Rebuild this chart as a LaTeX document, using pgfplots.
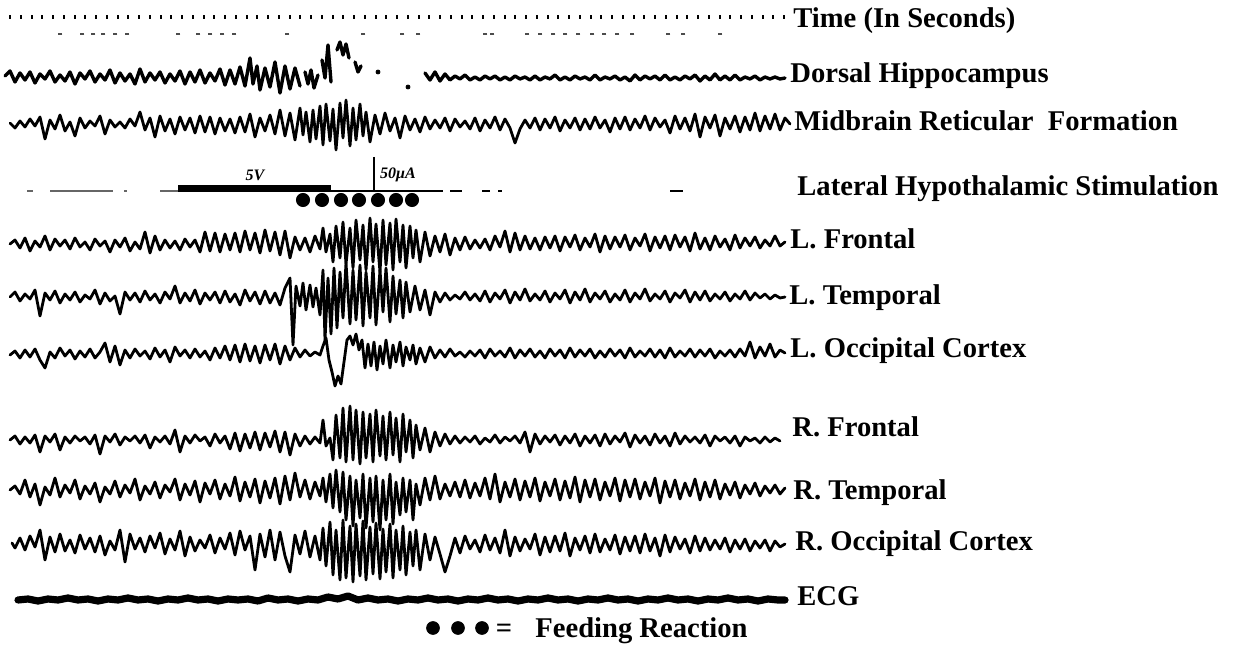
\documentclass[border=0pt]{standalone}
\usepackage{pgfplots}
\pgfplotsset{compat=1.18}
\usepackage{fontspec}
\setmainfont{Liberation Serif}
\newcommand{\lbl}{\fontsize{14.3}{16}\selectfont\bfseries}
\begin{document}
\begin{tikzpicture}[lab/.style={anchor=base west, inner sep=0pt, font=\lbl}]
\begin{axis}[width=618.5pt, height=323pt, scale only axis,
  xmin=0, xmax=1237, ymin=0, ymax=646, y dir=reverse,
  hide axis, clip=false, unbounded coords=jump,
  trace/.style={black, line width=1.4pt, line join=round, line cap=round, mark=none}]
\path (axis cs:0,0) rectangle (axis cs:1237,646);
% Time marks
\addplot[only marks, mark=|, mark size=0.8pt, black, mark options={line width=0.9pt}] coordinates {
(10,17)(21,17)(32,17)(42,17)(53,17)(64,17)(75,17)(85,17)(96,17)(107,17)(118,17)(128,17)(139,17)(150,17)(161,17)(171,17)(182,17)(193,17)(204,17)(214,17)(225,17)(236,17)(247,17)(257,17)(268,17)(279,17)(290,17)(300,17)(311,17)(322,17)(333,17)(343,17)(354,17)(365,17)(376,17)(386,17)(397,17)(408,17)(419,17)(429,17)(440,17)(451,17)(462,17)(472,17)(483,17)(494,17)(505,17)(515,17)(526,17)(537,17)(548,17)(558,17)(569,17)(580,17)(591,17)(601,17)(612,17)(623,17)(634,17)(644,17)(655,17)(666,17)(677,17)(687,17)(698,17)(709,17)(720,17)(730,17)(741,17)(752,17)(763,17)(773,17)(784,17)};
\addplot[only marks, mark=-, mark size=1.2pt, black!70, mark options={line width=0.6pt}] coordinates {
(60,34)(82,34)(93,34)(103,34)(115,34)(127,34)(178,34)(198,34)(210,34)(222,34)(234,34)(287,34)(363,34)(402,34)(418,34)(485,34)(492,34)(527,34)(540,34)(553,34)(565,34)(578,34)(592,34)(604,34)(617,34)(632,34)(668,34)(683,34)(720,34)};
% Dorsal Hippocampus
\addplot[trace, line width=1.7pt] coordinates {
(5,76)(10,71)(15,82)(20,73)(25,80)(30,72)(35,83)(40,74)(45,79)(50,71)(55,82)(60,75)(65,81)(70,72)(75,84)(80,73)(85,79)(90,71)(95,82)(100,74)(105,80)(110,70)(115,83)(120,73)(125,81)(130,74)(135,84)(140,69)(145,82)(150,73)(155,80)(160,72)(165,83)(170,74)(175,81)(180,71)(185,84)(190,72)(195,82)(200,70)(205,83)(210,73)(215,81)(220,69)(225,85)(230,70)(235,84)(240,67)(245,86)(250,58)(253,84)(257,66)(260,90)(265,68)(270,87)(275,62)(280,93)(285,66)(290,89)(295,68)(300,86)
(302,nan)(305,72)(308,84)(311,70)(314,88)(318,75)(320,nan)(322,60)(325,78)(328,45)(331,82)(334,nan)
(337,50)(340,42)(343,55)(346,44)(349,58)(351,nan)(355,62)(358,72)(361,66)(363,nan)
(425,73)(430,80)(435,72)(440,81)(445,74)(450,80)(455,76)(460,79)(465,75)(470,80)(475,77)(480,80)(485,76)(490,79)(495,76)(500,80)(505,77)(510,80)(515,76)(520,79)(525,77)(530,80)(535,76)(540,80)(545,77)(550,79)(555,75)(560,80)(565,77)(570,80)(575,76)(580,79)(585,77)(590,80)(595,75)(600,80)(605,77)(610,79)(615,76)(620,80)(625,77)(630,81)(635,75)(640,80)(645,76)(650,79)(655,76)(660,80)(665,75)(670,80)(675,77)(680,80)(685,76)(690,79)(695,75)(700,81)(705,76)(710,80)(715,74)(720,80)(725,76)(730,80)(735,75)(740,80)(745,77)(750,79)(755,76)(760,80)(765,77)(770,79)(775,77)(780,79)(785,78)};
\addplot[only marks, mark=*, mark size=1pt, black] coordinates {(378,72)(408,87)};
% Midbrain Reticular Formation
\addplot[trace] coordinates {
(10,123)(15,128)(20,121)(25,127)(30,119)(35,126)(40,117)(45,139)(50,120)(55,129)(60,115)(65,131)(70,122)(75,136)(80,118)(85,128)(90,121)(95,126)(100,116)(105,134)(110,120)(115,127)(120,122)(125,128)(130,119)(135,126)(140,112)(145,130)(150,118)(155,137)(160,116)(165,131)(170,119)(175,134)(180,117)(185,130)(190,118)(195,133)(200,116)(205,132)(210,117)(215,134)(220,118)(225,131)(230,119)(235,133)(240,117)(245,132)(250,114)(255,137)(260,118)(265,131)(270,115)(275,134)(280,110)(285,136)(290,113)(295,140)(300,108)(303,135)(306,112)(310,142)(313,110)(316,139)(320,106)(323,145)(326,104)(330,141)(333,109)(336,150)(340,103)(343,138)(346,100)(350,146)(353,108)(356,140)(360,104)(363,136)(366,112)(370,142)(375,115)(380,134)(385,113)(390,131)(395,118)(400,138)(405,116)(410,130)(415,119)(420,132)(425,117)(430,129)(435,120)(440,128)(445,118)(450,131)(455,119)(460,127)(465,121)(470,129)(475,118)(480,131)(485,120)(490,128)(495,117)(500,130)(505,119)(510,128)(515,143)(520,129)(525,120)(530,128)(535,118)(540,130)(545,119)(550,128)(555,117)(560,131)(565,120)(570,128)(575,118)(580,130)(585,119)(590,129)(595,117)(600,128)(605,120)(610,132)(615,118)(620,129)(625,117)(630,130)(635,119)(640,128)(645,116)(650,130)(655,118)(660,127)(665,120)(670,133)(675,116)(680,129)(685,118)(690,131)(695,114)(700,137)(705,117)(710,128)(715,115)(720,136)(725,118)(730,129)(735,116)(740,132)(745,117)(750,130)(755,113)(760,131)(765,116)(770,129)(775,114)(780,130)(785,118)(790,124)};
% Lateral hypothalamic stimulation
\addplot[black!60, line width=0.8pt, mark=none] coordinates {(27,191)(33,191)(35,nan)(50,191)(113,191)(115,nan)(124,191)(127,191)(130,nan)(160,191)(178,191)};
\addplot[black, line width=3.5pt, mark=none] coordinates {(178,188.5)(331,188.5)};
\addplot[black, line width=0.8pt, mark=none] coordinates {(331,191)(443,191)(445,nan)(450,191)(462,191)(464,nan)(482,191)(490,191)(492,nan)(498,191)(502,191)(504,nan)(670,191)(683,191)};
\addplot[black, line width=0.8pt, mark=none] coordinates {(374,157)(374,191)};
\addplot[only marks, mark=*, mark size=3.3pt, black] coordinates {(303,200)(322,200)(341,200)(359,200)(378,200)(396,200)(412,200)};
\node[font=\fontsize{8}{9}\selectfont\bfseries\itshape] at (axis cs:255,175) {5V};
\node[font=\fontsize{8}{9}\selectfont\bfseries\itshape] at (axis cs:398,175) {50μA};
% L. Frontal
\addplot[trace] coordinates {
(10,244)(15,240)(20,248)(25,238)(30,251)(35,241)(40,247)(45,236)(50,250)(55,239)(60,246)(65,240)(70,249)(75,238)(80,247)(85,242)(90,250)(95,239)(100,246)(105,241)(110,252)(115,240)(120,247)(125,238)(130,251)(135,242)(140,249)(145,232)(150,253)(155,236)(160,250)(165,240)(170,248)(175,241)(180,250)(185,239)(190,247)(195,240)(200,252)(205,232)(210,251)(215,233)(220,252)(225,234)(230,250)(235,233)(240,252)(245,231)(250,250)(255,233)(260,253)(265,230)(270,251)(275,232)(280,255)(285,231)(290,258)(295,237)(300,250)(305,238)(310,252)(315,236)(320,249)(323,228)(326,252)(330,234)(333,262)(336,226)(340,258)(343,222)(346,264)(350,228)(353,268)(356,220)(360,260)(363,225)(366,270)(370,218)(373,262)(376,224)(380,272)(383,220)(386,265)(390,223)(393,270)(396,219)(400,262)(403,225)(406,268)(410,226)(413,258)(416,230)(420,262)(425,232)(430,256)(435,236)(440,252)(445,234)(450,255)(455,238)(460,250)(465,237)(470,249)(475,240)(480,248)(485,239)(490,250)(495,236)(500,247)(505,231)(510,252)(515,233)(520,250)(525,236)(530,249)(535,238)(540,250)(545,237)(550,248)(555,236)(560,251)(565,237)(570,247)(575,235)(580,250)(585,238)(590,247)(595,234)(600,252)(605,236)(610,249)(615,237)(620,247)(625,235)(630,250)(635,238)(640,246)(645,234)(650,251)(655,237)(660,248)(665,236)(670,250)(675,235)(680,247)(685,237)(690,251)(695,233)(700,249)(705,238)(710,250)(715,236)(720,247)(725,239)(730,250)(735,235)(740,248)(745,238)(750,246)(755,237)(760,248)(765,240)(770,246)(775,236)(780,246)(785,242)};
% L. Temporal
\addplot[trace] coordinates {
(10,297)(15,292)(20,301)(25,294)(30,299)(35,290)(40,316)(45,293)(50,300)(55,291)(60,303)(65,294)(70,300)(75,292)(80,302)(85,295)(90,299)(95,290)(100,304)(105,293)(110,301)(115,296)(120,314)(125,292)(130,300)(135,293)(140,302)(145,291)(150,300)(155,294)(160,303)(165,292)(170,299)(175,286)(180,303)(185,293)(190,301)(195,290)(200,304)(205,293)(210,300)(215,292)(220,303)(225,291)(230,302)(235,294)(240,305)(245,290)(250,301)(255,292)(260,304)(265,291)(270,303)(275,293)(280,305)(285,288)(290,278)(293,345)(296,286)(300,306)(303,283)(306,310)(310,285)(313,307)(316,288)(320,315)(323,270)(325,340)(328,278)(331,334)(334,268)(337,328)(340,272)(343,318)(346,263)(350,324)(353,270)(356,320)(360,265)(363,326)(366,272)(370,318)(373,266)(376,325)(380,270)(383,312)(386,268)(390,322)(393,276)(396,314)(400,280)(403,318)(406,282)(410,312)(415,286)(420,310)(425,290)(430,315)(435,292)(440,302)(445,293)(450,300)(455,295)(460,299)(465,292)(470,300)(475,294)(480,301)(485,291)(490,302)(495,293)(500,299)(505,290)(510,303)(515,292)(520,300)(525,289)(530,301)(535,294)(540,300)(545,291)(550,302)(555,293)(560,299)(565,290)(570,303)(575,292)(580,300)(585,289)(590,302)(595,293)(600,299)(605,291)(610,302)(615,294)(620,300)(625,290)(630,302)(635,293)(640,299)(645,289)(650,301)(655,294)(660,299)(665,291)(670,302)(675,293)(680,298)(685,290)(690,302)(695,292)(700,300)(705,291)(710,301)(715,294)(720,299)(725,292)(730,301)(735,294)(740,299)(745,291)(750,300)(755,293)(760,298)(765,294)(770,299)(775,295)(780,298)(785,297)};
% L. Occipital
\addplot[trace] coordinates {
(10,355)(15,351)(20,358)(25,350)(30,357)(35,349)(40,360)(45,368)(50,352)(55,358)(60,348)(65,356)(70,350)(75,359)(80,351)(85,357)(90,349)(95,358)(100,352)(105,343)(110,362)(115,346)(120,365)(125,350)(130,358)(135,349)(140,356)(145,351)(150,359)(155,348)(160,357)(165,350)(170,362)(175,347)(180,356)(185,350)(190,358)(195,349)(200,357)(205,351)(210,360)(215,348)(220,358)(225,346)(230,360)(235,345)(240,362)(245,344)(250,361)(255,346)(260,363)(265,345)(270,360)(275,344)(280,364)(285,346)(290,360)(295,348)(300,357)(305,350)(310,356)(315,352)(320,355)(323,346)(326,338)(329,360)(332,372)(335,386)(338,376)(341,384)(344,362)(347,340)(350,336)(353,345)(356,334)(359,350)(362,340)(365,368)(368,344)(371,366)(374,342)(377,370)(380,346)(383,364)(386,340)(390,368)(393,345)(396,362)(400,342)(403,366)(406,347)(410,360)(413,345)(416,364)(420,348)(425,362)(430,347)(435,358)(440,350)(445,357)(450,349)(455,356)(460,352)(465,357)(470,351)(475,356)(480,350)(485,358)(490,349)(495,356)(500,351)(505,357)(510,348)(515,358)(520,350)(525,356)(530,349)(535,357)(540,351)(545,358)(550,349)(555,356)(560,350)(565,358)(570,348)(575,357)(580,350)(585,356)(590,349)(595,358)(600,351)(605,357)(610,349)(615,356)(620,350)(625,358)(630,348)(635,357)(640,351)(645,356)(650,349)(655,357)(660,350)(665,358)(670,348)(675,357)(680,351)(685,356)(690,349)(695,357)(700,350)(705,356)(710,349)(715,358)(720,351)(725,356)(730,350)(735,357)(740,349)(745,356)(750,342)(755,358)(760,347)(765,356)(770,344)(775,357)(780,350)(785,353)};
% R. Frontal
\addplot[trace] coordinates {
(10,440)(15,436)(20,444)(25,437)(30,443)(35,435)(40,452)(45,436)(50,442)(55,434)(60,450)(65,437)(70,443)(75,436)(80,441)(85,437)(90,444)(95,435)(100,454)(105,436)(110,442)(115,434)(120,445)(125,437)(130,441)(135,436)(140,443)(145,435)(150,448)(155,437)(160,442)(165,436)(170,444)(175,430)(180,452)(185,436)(190,443)(195,435)(200,441)(205,437)(210,446)(215,434)(220,443)(225,436)(230,449)(235,433)(240,451)(245,434)(250,448)(255,432)(260,450)(265,433)(270,447)(275,431)(280,452)(285,432)(290,455)(295,434)(300,446)(305,436)(310,444)(315,437)(320,443)(323,420)(326,446)(330,438)(333,460)(336,415)(340,458)(343,408)(346,462)(350,406)(353,460)(356,410)(360,464)(363,412)(366,458)(370,414)(373,462)(376,410)(380,456)(383,416)(386,460)(390,412)(393,455)(396,418)(400,462)(403,414)(406,452)(410,420)(413,458)(416,425)(420,450)(425,428)(430,452)(435,432)(440,446)(445,434)(450,444)(455,436)(460,443)(465,437)(470,442)(475,436)(480,444)(485,438)(490,442)(495,435)(500,443)(505,437)(510,441)(515,436)(520,443)(525,432)(530,452)(535,434)(540,444)(545,436)(550,442)(555,435)(560,445)(565,436)(570,443)(575,434)(580,446)(585,436)(590,443)(595,435)(600,446)(605,434)(610,444)(615,436)(620,442)(625,433)(630,447)(635,435)(640,443)(645,436)(650,445)(655,434)(660,443)(665,436)(670,446)(675,433)(680,444)(685,436)(690,442)(695,437)(700,443)(705,435)(710,446)(715,436)(720,441)(725,437)(730,443)(735,436)(740,446)(745,437)(750,441)(755,438)(760,443)(765,437)(770,442)(775,438)(780,441)};
% R. Temporal
\addplot[trace] coordinates {
(10,490)(15,486)(20,494)(25,480)(30,497)(35,484)(40,505)(45,487)(50,495)(55,478)(60,497)(65,485)(70,493)(75,480)(80,499)(85,486)(90,494)(95,483)(100,502)(105,487)(110,494)(115,481)(120,497)(125,485)(130,493)(135,479)(140,500)(145,486)(150,494)(155,482)(160,498)(165,485)(170,492)(175,479)(180,500)(185,484)(190,495)(195,481)(200,502)(205,483)(210,494)(215,480)(220,499)(225,484)(230,496)(235,477)(240,501)(245,482)(250,497)(255,479)(260,503)(265,481)(270,498)(275,478)(280,504)(285,476)(290,500)(295,473)(300,497)(305,480)(310,499)(315,482)(320,496)(323,478)(326,502)(330,474)(333,508)(336,470)(340,512)(343,472)(346,520)(350,476)(353,526)(356,480)(360,518)(363,474)(366,528)(370,478)(373,522)(376,476)(380,530)(383,480)(386,520)(390,474)(393,524)(396,482)(400,515)(403,478)(406,512)(410,480)(413,520)(416,484)(420,505)(425,478)(430,500)(435,476)(440,499)(445,484)(450,496)(455,482)(460,497)(465,480)(470,498)(475,483)(480,496)(485,478)(490,499)(495,474)(500,502)(505,482)(510,497)(515,479)(520,500)(525,481)(530,497)(535,478)(540,501)(545,482)(550,496)(555,479)(560,500)(565,481)(570,498)(575,477)(580,502)(585,480)(590,497)(595,479)(600,500)(605,482)(610,496)(615,478)(620,501)(625,480)(630,497)(635,479)(640,499)(645,482)(650,496)(655,478)(660,503)(665,481)(670,497)(675,480)(680,499)(685,483)(690,496)(695,479)(700,500)(705,482)(710,497)(715,480)(720,499)(725,484)(730,495)(735,482)(740,498)(745,485)(750,494)(755,483)(760,496)(765,486)(770,493)(775,485)(780,494)(785,488)};
% R. Occipital
\addplot[trace] coordinates {
(12,543)(15,548)(20,538)(25,550)(30,536)(35,547)(40,530)(45,560)(50,537)(55,552)(60,534)(65,551)(70,540)(75,553)(80,535)(85,549)(90,538)(95,552)(100,536)(105,555)(110,541)(115,550)(120,530)(125,562)(130,534)(135,549)(140,538)(145,552)(150,536)(155,548)(160,533)(165,554)(170,539)(175,550)(180,531)(185,556)(190,537)(195,551)(200,540)(205,548)(210,535)(215,553)(220,538)(225,549)(230,533)(235,555)(240,531)(245,550)(250,536)(255,570)(260,534)(265,557)(270,530)(275,560)(280,532)(285,556)(290,572)(295,535)(300,554)(305,531)(310,557)(315,536)(320,560)(323,528)(326,566)(330,522)(333,575)(336,530)(340,580)(343,520)(346,578)(350,526)(353,582)(356,524)(360,576)(363,521)(366,580)(370,527)(373,574)(376,523)(380,579)(383,529)(386,572)(390,524)(393,578)(396,530)(400,570)(403,526)(406,575)(410,532)(413,566)(416,530)(420,570)(425,534)(430,560)(435,537)(440,554)(445,572)(450,556)(455,538)(460,553)(465,536)(470,549)(475,540)(480,552)(485,535)(490,550)(495,538)(500,553)(505,530)(510,556)(515,537)(520,551)(525,539)(530,549)(535,534)(540,555)(545,537)(550,552)(555,536)(560,551)(565,533)(570,556)(575,538)(580,550)(585,536)(590,553)(595,534)(600,552)(605,539)(610,550)(615,535)(620,554)(625,537)(630,551)(635,536)(640,553)(645,534)(650,551)(655,538)(660,556)(665,535)(670,552)(675,537)(680,549)(685,539)(690,553)(695,536)(700,551)(705,538)(710,550)(715,540)(720,549)(725,538)(730,552)(735,540)(740,549)(745,539)(750,551)(755,541)(760,548)(765,540)(770,551)(775,541)(780,547)(785,544)};
% ECG
\addplot[black, line width=3.6pt, line join=round, line cap=round, mark=none] coordinates {
(18,600)(28,599)(38,601)(48,599)(58,600)(68,598)(78,600)(88,599)(98,601)(108,599)(118,600)(128,598)(138,600)(148,599)(158,601)(168,599)(178,600)(188,598)(198,600)(208,599)(218,601)(228,599)(238,600)(248,599)(258,601)(268,598)(278,600)(288,599)(298,601)(308,599)(318,600)(328,597)(338,599)(348,596)(358,600)(368,598)(378,600)(388,599)(398,601)(408,599)(418,600)(428,598)(438,600)(448,599)(458,601)(468,599)(478,600)(488,598)(498,600)(508,599)(518,601)(528,599)(538,600)(548,598)(558,600)(568,599)(578,601)(588,599)(598,600)(608,598)(618,600)(628,599)(638,601)(648,599)(658,600)(668,598)(678,600)(688,599)(698,601)(708,599)(718,600)(728,598)(738,600)(748,599)(758,601)(768,599)(778,600)(785,600)};
% Legend
\addplot[only marks, mark=*, mark size=3.2pt, black] coordinates {(433,628)(458,628)(482,628)};
\node[anchor=base, inner sep=0pt, font=\lbl] at (axis cs:504,637) {=};
\node[lab] at (axis cs:535,637) {Feeding Reaction};
% Labels
\node[lab] at (axis cs:793,28) {Time (In Seconds)};
\node[lab] at (axis cs:790,83) {Dorsal Hippocampus};
\node[lab] at (axis cs:794,131) {Midbrain Reticular\ \ Formation};
\node[lab] at (axis cs:797,196) {Lateral Hypothalamic Stimulation};
\node[lab] at (axis cs:790,249) {L. Frontal};
\node[lab] at (axis cs:789,305) {L. Temporal};
\node[lab] at (axis cs:790,358) {L. Occipital Cortex};
\node[lab] at (axis cs:792,437) {R. Frontal};
\node[lab] at (axis cs:793,500) {R. Temporal};
\node[lab] at (axis cs:795,550) {R. Occipital Cortex};
\node[lab] at (axis cs:797,605) {ECG};
\end{axis}
\end{tikzpicture}
\end{document}
